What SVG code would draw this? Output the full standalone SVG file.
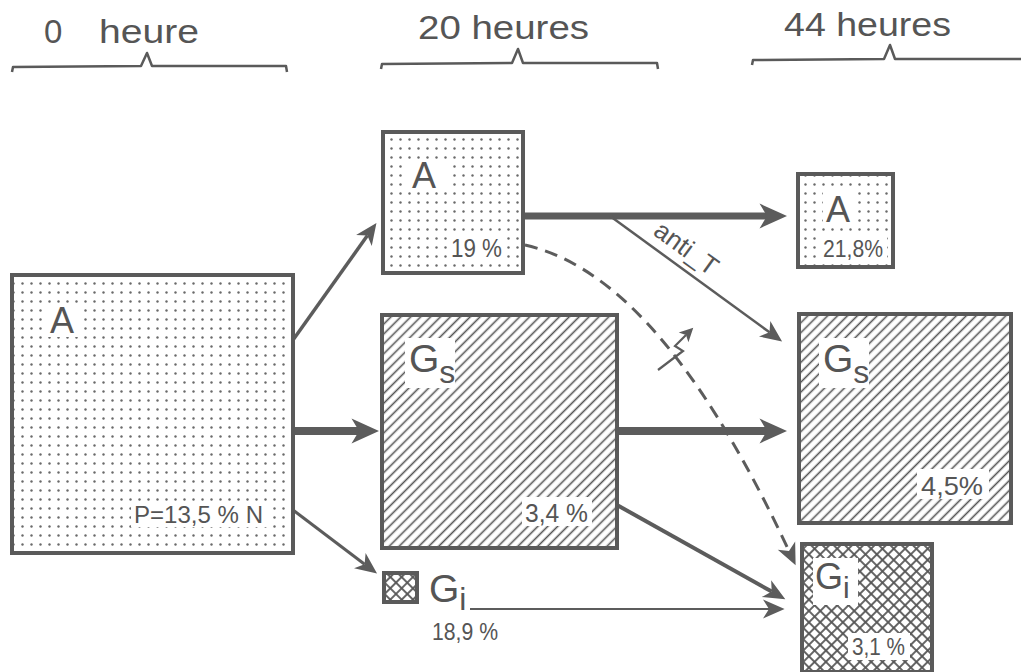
<svg xmlns="http://www.w3.org/2000/svg" width="1021" height="672" viewBox="0 0 1021 672">
<style>
  .bx{stroke:#5a5a5a;stroke-width:4}
  .t{font-family:"Liberation Sans","DejaVu Sans",sans-serif;fill:#555}
  .hd{font-size:33px}
  .c{fill:none;stroke:#5c5c5c}
  .wb{fill:#fff}
  .br{fill:none;stroke:#5a5a5a;stroke-width:2.5;stroke-linejoin:round}
</style>
<defs>
  <pattern id="dots" patternUnits="userSpaceOnUse" width="9" height="9">
    <rect width="9" height="9" fill="#fff"/>
    <circle cx="4.5" cy="4.5" r="1.2" fill="#6a6a6a"/>
  </pattern>
  <pattern id="hatch" patternUnits="userSpaceOnUse" width="7" height="7" patternTransform="rotate(45)">
    <rect width="7" height="7" fill="#fff"/>
    <line x1="3.5" y1="0" x2="3.5" y2="7" stroke="#555" stroke-width="1.6"/>
  </pattern>
  <pattern id="cross" patternUnits="userSpaceOnUse" width="8" height="8" patternTransform="rotate(45)">
    <rect width="8" height="8" fill="#fff"/>
    <line x1="4" y1="0" x2="4" y2="8" stroke="#555" stroke-width="1.8"/>
    <line x1="0" y1="4" x2="8" y2="4" stroke="#555" stroke-width="1.8"/>
  </pattern>
  <marker id="big" markerUnits="userSpaceOnUse" markerWidth="30" markerHeight="30" refX="6" refY="0" orient="auto" viewBox="0 -12 24 24" overflow="visible">
    <path d="M0,-10 L22,0 L0,10 L6,0 Z" fill="#5c5c5c"/>
  </marker>
  <marker id="sm" markerUnits="userSpaceOnUse" markerWidth="24" markerHeight="24" refX="5" refY="0" orient="auto" viewBox="0 -10 20 20" overflow="visible">
    <path d="M0,-8 L18,0 L0,8 L5,0 Z" fill="#5c5c5c"/>
  </marker>
  <marker id="tiny" markerUnits="userSpaceOnUse" markerWidth="16" markerHeight="16" refX="3" refY="0" orient="auto" viewBox="0 -7 14 14" overflow="visible">
    <path d="M0,-6 L12,0 L0,6 L3,0 Z" fill="#5c5c5c"/>
  </marker>
</defs>
<rect width="1021" height="672" fill="#fff"/>

<g id="headers">
  <text class="t hd" x="44" y="43">0</text>
  <text class="t hd" x="99" y="43" textLength="100" lengthAdjust="spacingAndGlyphs">heure</text>
  <path class="br" d="M12,72 L13,67 L141,66 L147,53 L152,66 L286,66 L287,72"/>
  <text class="t hd" x="418" y="39" textLength="171" lengthAdjust="spacingAndGlyphs">20 heures</text>
  <path class="br" d="M381,69 L382,64 L512,63 L518,49 L523,63 L657,63 L658,69"/>
  <text class="t hd" x="784" y="36" textLength="167" lengthAdjust="spacingAndGlyphs">44 heures</text>
  <path class="br" d="M752,65 L753,60 L884,59 L890,45 L895,59 L1021,59"/>
</g>

<g id="connectors">
  <line class="c" x1="293" y1="340" x2="367.4" y2="235.6" stroke-width="3.5" marker-end="url(#sm)"/>
  <line class="c" x1="293" y1="431" x2="359" y2="431" stroke-width="8" marker-end="url(#big)"/>
  <line class="c" x1="293" y1="510" x2="364.6" y2="564.2" stroke-width="3" marker-end="url(#sm)"/>
  <line class="c" x1="523" y1="216" x2="767" y2="216" stroke-width="7" marker-end="url(#big)"/>
  <line class="c" x1="610" y1="216" x2="769.5" y2="332.3" stroke-width="2.5" marker-end="url(#sm)"/>
  <path class="c" d="M525,245 C600,262 688,335 789,551" stroke-width="3" stroke-dasharray="13 8" marker-end="url(#sm)"/>
  <line class="c" x1="617" y1="431" x2="767" y2="431" stroke-width="8" marker-end="url(#big)"/>
  <line class="c" x1="617" y1="505" x2="771.7" y2="591.6" stroke-width="4" marker-end="url(#sm)"/>
  <line class="c" x1="470" y1="609" x2="769" y2="609" stroke-width="2.2" marker-end="url(#sm)"/>
  <path class="c" d="M658,370 L683,351 L675,346 L686,335" stroke-width="2.2" marker-end="url(#tiny)"/>
  <text class="t" x="652" y="234" font-size="26" transform="rotate(36 652 234)">anti_T</text>
</g>

<g id="A0">
  <rect class="bx" x="12" y="275" width="281" height="278" fill="url(#dots)"/>
  <rect class="wb" x="46" y="303" width="34" height="34"/>
  <text class="t" x="50" y="333" font-size="36">A</text>
  <rect class="wb" x="131" y="502" width="136" height="25"/>
  <text class="t" x="134" y="523" font-size="24" textLength="129" lengthAdjust="spacingAndGlyphs">P=13,5 % N</text>
</g>

<g id="A20">
  <rect class="bx" x="383" y="132" width="140" height="141" fill="url(#dots)"/>
  <rect class="wb" x="408" y="159" width="40" height="33"/>
  <text class="t" x="412" y="188" font-size="36">A</text>
  <rect class="wb" x="448" y="233" width="58" height="27"/>
  <text class="t" x="451" y="257" font-size="25" textLength="51" lengthAdjust="spacingAndGlyphs">19 %</text>
</g>

<g id="Gs20">
  <rect class="bx" x="382" y="315" width="235" height="233" fill="url(#hatch)"/>
  <rect class="wb" x="405" y="338" width="50" height="50"/>
  <text class="t" x="409" y="372" font-size="39">G<tspan font-size="32" dy="11">s</tspan></text>
  <rect class="wb" x="522" y="497" width="70" height="29"/>
  <text class="t" x="525" y="522" font-size="26" textLength="63" lengthAdjust="spacingAndGlyphs">3,4 %</text>
</g>

<g id="Gi20">
  <rect class="bx" x="384" y="573" width="33" height="29" fill="url(#cross)"/>
  <text class="t" x="429" y="602" font-size="39">G<tspan font-size="32" dy="8">i</tspan></text>
  <text class="t" x="432" y="640" font-size="24" textLength="66" lengthAdjust="spacingAndGlyphs">18,9 %</text>
</g>

<g id="A44">
  <rect class="bx" x="798" y="174" width="95" height="93" fill="url(#dots)"/>
  <rect class="wb" x="823" y="189" width="31" height="36"/>
  <text class="t" x="826" y="222" font-size="36">A</text>
  <rect class="wb" x="820" y="234" width="67" height="26"/>
  <text class="t" x="823" y="257" font-size="24" textLength="60" lengthAdjust="spacingAndGlyphs">21,8%</text>
</g>

<g id="Gs44">
  <rect class="bx" x="799" y="314" width="212" height="209" fill="url(#hatch)"/>
  <rect class="wb" x="819" y="338" width="50" height="50"/>
  <text class="t" x="823" y="372" font-size="39">G<tspan font-size="32" dy="11">s</tspan></text>
  <rect class="wb" x="917" y="469" width="72" height="30"/>
  <text class="t" x="921" y="495" font-size="26" textLength="62" lengthAdjust="spacingAndGlyphs">4,5%</text>
</g>

<g id="Gi44">
  <rect class="bx" x="802" y="544" width="130" height="128" fill="url(#cross)"/>
  <rect class="wb" x="813" y="558" width="45" height="47"/>
  <text class="t" x="815" y="589" font-size="36">G<tspan font-size="30" dy="9">i</tspan></text>
  <rect class="wb" x="848" y="633" width="62" height="27"/>
  <text class="t" x="852" y="655" font-size="24" textLength="53" lengthAdjust="spacingAndGlyphs">3,1 %</text>
</g>
</svg>
